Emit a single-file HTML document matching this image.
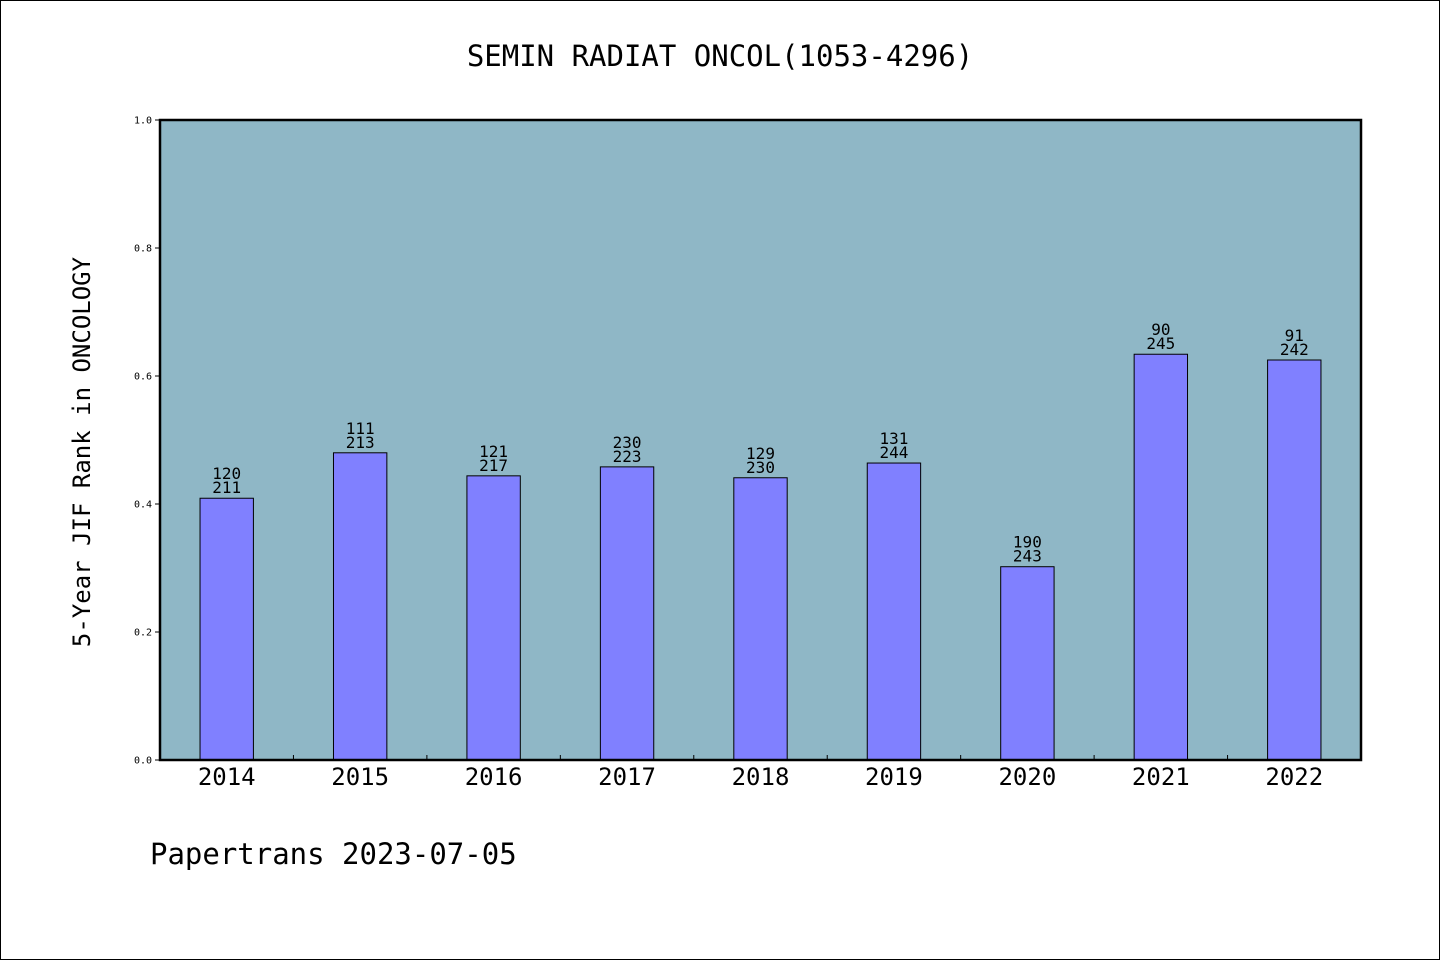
<!DOCTYPE html>
<html><head><meta charset="utf-8"><style>
html,body{margin:0;padding:0;background:#fff;}
svg{display:block;font-family:"DejaVu Sans Mono","Liberation Mono",monospace;}
</style></head><body>
<svg id="chart" width="1440" height="960" xmlns="http://www.w3.org/2000/svg">
<rect x="0.5" y="0.5" width="1439" height="959" fill="#fff" stroke="#000"/>
<text x="720" y="66" text-anchor="middle" font-size="29">SEMIN RADIAT ONCOL(1053-4296)</text>
<rect x="160" y="120" width="1201" height="640" fill="#8fb7c6"/>
<g id="bars"></g>
<rect x="160" y="120" width="1201" height="640" fill="none" stroke="#000" stroke-width="2.5"/>
<g id="axes"></g>
<text transform="translate(90,452) rotate(-90)" text-anchor="middle" font-size="24">5-Year JIF Rank in ONCOLOGY</text>
<text x="150" y="864" font-size="29">Papertrans 2023-07-05</text>
</svg>
<script>
const categories=["2014","2015","2016","2017","2018","2019","2020","2021","2022"];
const values=[0.409,0.480,0.444,0.458,0.441,0.464,0.302,0.634,0.625];
const ranks=["120","111","121","230","129","131","190","90","91"];
const totals=["211","213","217","223","230","244","243","245","242"];
const yTicks=["0.0","0.2","0.4","0.6","0.8","1.0"];
const NS="http://www.w3.org/2000/svg";
const X0=160,X1=1361,Y0=760,Y1=120;
const slot=(X1-X0)/categories.length;
const xC=i=>X0+slot*(i+0.5);
const yS=v=>Y0-(Y0-Y1)*v;
function mk(t,a){const e=document.createElementNS(NS,t);for(const k in a)e.setAttribute(k,a[k]);return e;}
const bars=document.getElementById('bars'),axes=document.getElementById('axes');
const bw=slot*0.4;
categories.forEach((c,i)=>{
  const y=yS(values[i]);
  const r=mk('rect',{x:xC(i)-bw/2,y:y,width:bw,height:Y0-y,fill:'#8080ff',stroke:'#000','stroke-width':1});
  
  
  bars.appendChild(r);
  const t1=mk('text',{x:xC(i),y:y-19,'text-anchor':'middle','font-size':16});
  t1.textContent=ranks[i];
  
  
  bars.appendChild(t1);
  const t2=mk('text',{x:xC(i),y:y-5,'text-anchor':'middle','font-size':16});
  t2.textContent=totals[i];
  
  
  bars.appendChild(t2);
  const xl=mk('text',{x:xC(i),y:785,'text-anchor':'middle','font-size':24});
  xl.textContent=c;
  
  
  axes.appendChild(xl);
});
for(let i=1;i<categories.length;i++){
  const tk=mk('line',{x1:X0+slot*i,x2:X0+slot*i,y1:Y0,y2:Y0-5,stroke:'#000','stroke-width':1});
  
  
  axes.appendChild(tk);
}
yTicks.forEach(v=>{
  const y=yS(parseFloat(v));
  const tk=mk('line',{x1:X0-5,x2:X0,y1:y,y2:y,stroke:'#000','stroke-width':1});
  
  
  axes.appendChild(tk);
  const t=mk('text',{x:X0-8,y:y+3.5,'text-anchor':'end','font-size':10});
  t.textContent=v;
  
  
  axes.appendChild(t);
});
</script>
</body></html>
